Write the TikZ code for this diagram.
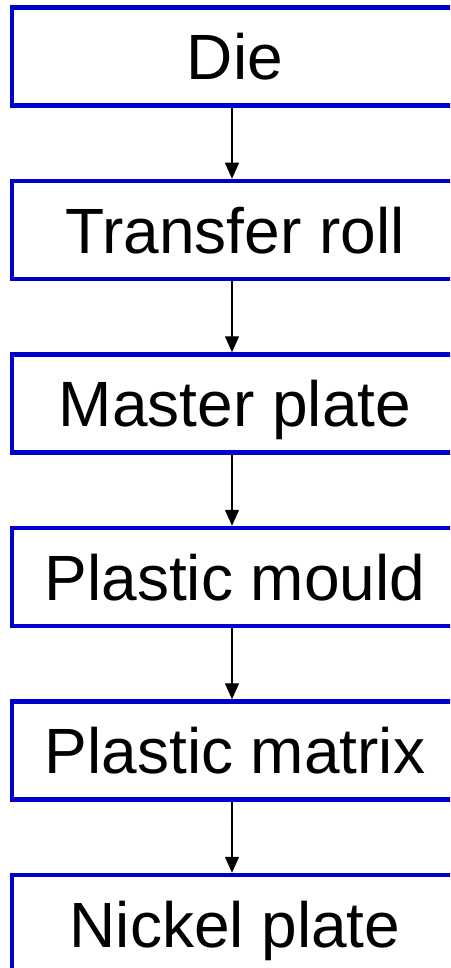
\documentclass[tikz,border=0pt]{standalone}
\usepackage{fontspec}
\setmainfont{Liberation Sans}
\usetikzlibrary{arrows.meta}

\definecolor{boxblue}{RGB}{0,0,204}

\tikzset{
    stage/.style={
        draw=boxblue,
        line width=4.5pt,
        fill=white,
        minimum width=446pt,
        minimum height=98pt,
        inner sep=0pt,
        font=\fontsize{64}{70}\selectfont,
        text height=46pt,
        text depth=0pt
    },
    flow/.style={
        -{Triangle[length=16pt,width=14pt]},
        line width=1.4pt,
        black
    }
}

\begin{document}
\begin{tikzpicture}[x=1pt,y=-1pt]
    \useasboundingbox (0,0) rectangle (450,968);
    \clip (0,0) rectangle (450,968);

    % process stages, top to bottom (right side runs off the page)
    \node[stage] (die)    at (235,56.5)  {Die};
    \node[stage] (roll)   at (235,230)   {Transfer roll};
    \node[stage] (master) at (235,403.5) {Master plate};
    \node[stage] (mould)  at (235,577)   {Plastic mould};
    \node[stage] (matrix) at (235,750.5) {Plastic matrix};
    \node[stage] (nickel) at (235,924)   {Nickel plate};

    % arrows between stages
    \foreach \a/\b in {die/roll, roll/master, master/mould, mould/matrix, matrix/nickel}
        \draw[flow] ([xshift=-3pt]\a.south) -- ([xshift=-3pt]\b.north);
\end{tikzpicture}
\end{document}
